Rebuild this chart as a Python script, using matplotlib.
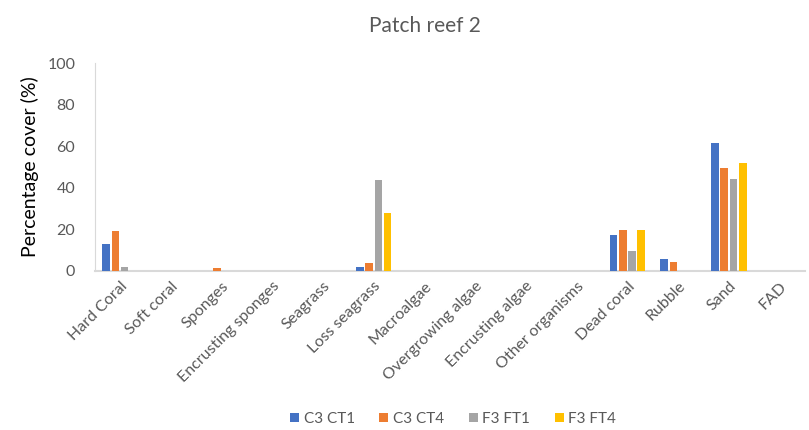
import numpy as np
import matplotlib
matplotlib.use("Agg")
import matplotlib.pyplot as plt

plt.rcParams['font.family'] = ['Lato', 'DejaVu Sans']

categories = ["Hard Coral", "Soft coral", "Sponges", "Encrusting sponges", "Seagrass",
              "Loss seagrass", "Macroalgae", "Overgrowing algae", "Encrusting algae",
              "Other organisms", "Dead coral", "Rubble", "Sand", "FAD"]
series_names = ["C3 CT1", "C3 CT4", "F3 FT1", "F3 FT4"]
c3_ct1 = [12.8, 0, 0, 0, 0, 1.8, 0, 0, 0, 0, 17.2, 5.8, 61.5, 0]
c3_ct4 = [19.2, 0, 1.3, 0, 0, 3.8, 0, 0, 0, 0, 19.7, 4.3, 49.7, 0]
f3_ft1 = [1.8, 0, 0, 0, 0, 44.0, 0, 0, 0, 0, 9.6, 0, 44.2, 0]
f3_ft4 = [0, 0, 0, 0, 0, 28.0, 0, 0, 0, 0, 19.7, 0, 51.9, 0]
colors = ["#4472C4", "#ED7D31", "#A5A5A5", "#FFC000"]

fig = plt.figure(figsize=(8.09, 4.30), dpi=100)
ax = fig.add_axes([0.117, 0.370, 0.878, 0.483])

x = np.arange(len(categories))
step = 0.182
w = 0.15
for i, (vals, name) in enumerate(zip([c3_ct1, c3_ct4, f3_ft1, f3_ft4], series_names)):
    ax.bar(x + (i - 1.5) * step, vals, width=w, color=colors[i], label=name, zorder=3)

ax.set_xlim(-0.5, len(categories) - 0.5)
ax.set_ylim(0, 100)
ax.set_yticks(range(0, 101, 20))
ax.set_xticks(x)
ax.set_xticklabels(categories, rotation=45, ha='right', rotation_mode='anchor',
                   fontsize=11.5, color='#595959')
ax.tick_params(axis='y', length=0, labelsize=11.5, labelcolor='#595959', pad=14)
ax.tick_params(axis='x', length=0, pad=6)
for s in ['top', 'right']:
    ax.spines[s].set_visible(False)
ax.spines['left'].set_color('#d9d9d9')
ax.spines['bottom'].set_color('#d9d9d9')
ax.spines['bottom'].set_linewidth(1.5)
ax.set_ylabel("Percentage cover (%)", fontsize=14, color='black', labelpad=6)

fig.text(0.525, 0.94, "Patch reef 2", ha='center', va='center', fontsize=15, color='#595959')

fig.legend(loc='center', bbox_to_anchor=(0.56, 0.026), ncol=4, frameon=False,
           fontsize=11, handlelength=0.6, handleheight=0.6, handletextpad=0.3,
           columnspacing=1.6, labelcolor='#595959')

fig.savefig("out.png", dpi=100)
